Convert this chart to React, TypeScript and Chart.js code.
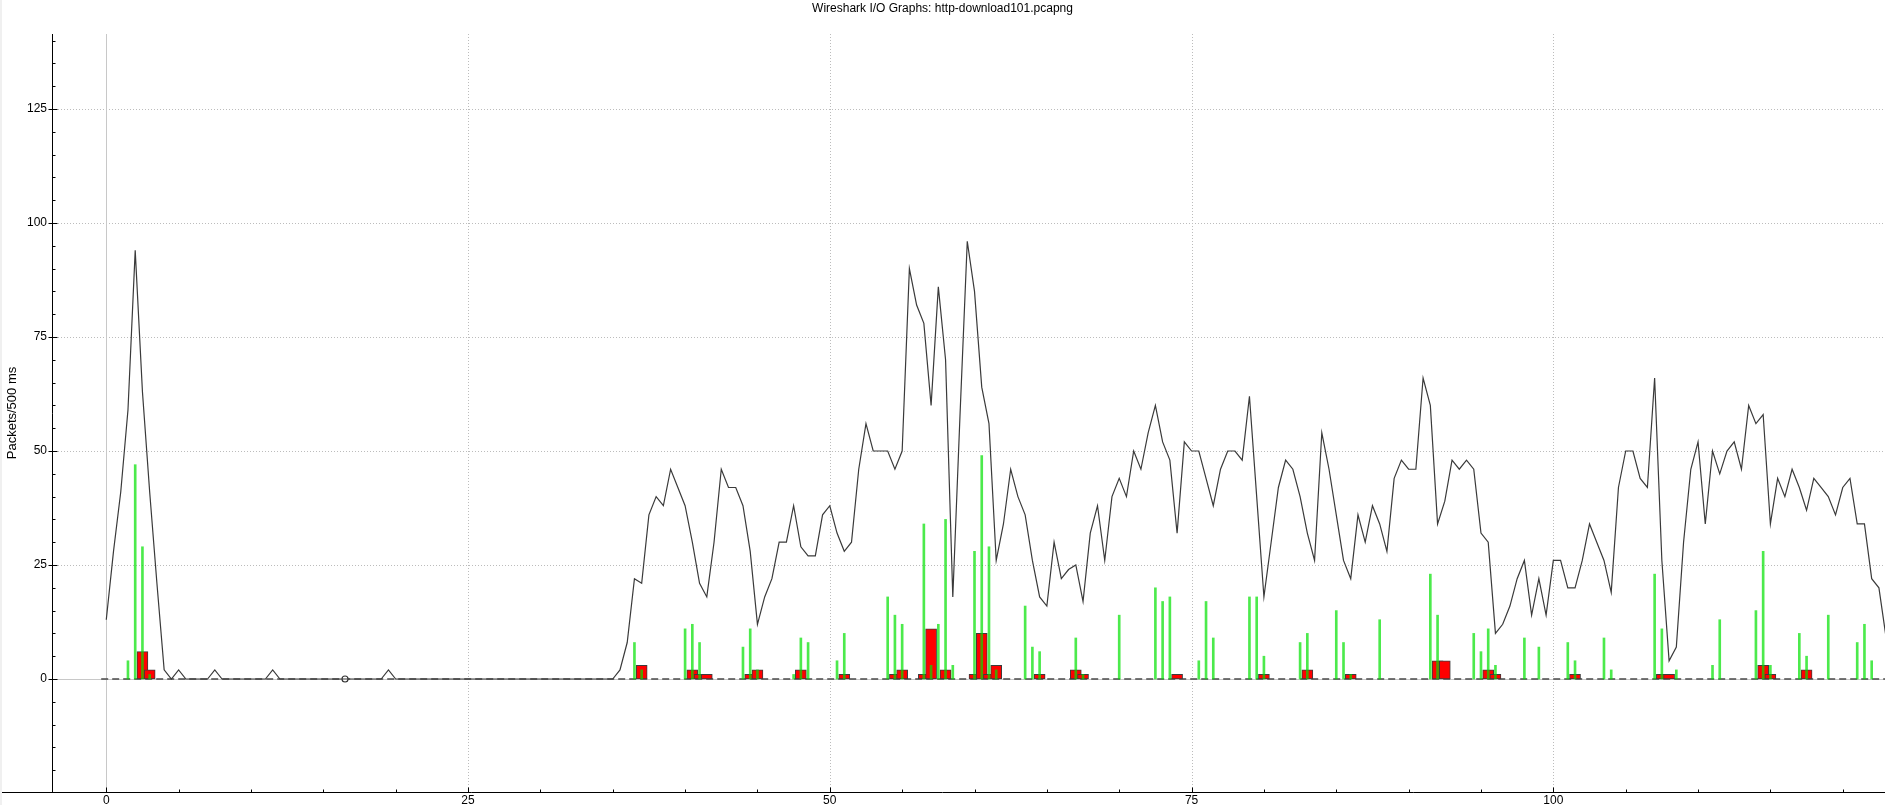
import { useEffect, useRef } from "react"
import Chart from "chart.js/auto"

// Wireshark I/O graph, one sample every 500 ms starting at t = 0
const INTERVAL = 0.5

// all packets per interval (black line)
const PACKETS = [
  13, 28, 41, 59, 94, 63, 41, 21, 2, 0,
  2, 0, 0, 0, 0, 2, 0, 0, 0, 0,
  0, 0, 0, 2, 0, 0, 0, 0, 0, 0,
  0, 0, 0, 0, 0, 0, 0, 0, 0, 2,
  0, 0, 0, 0, 0, 0, 0, 0, 0, 0,
  0, 0, 0, 0, 0, 0, 0, 0, 0, 0,
  0, 0, 0, 0, 0, 0, 0, 0, 0, 0,
  0, 2, 8, 22, 21, 36, 40, 38, 46, 42,
  38, 30, 21, 18, 30, 46, 42, 42, 38, 28,
  12, 18, 22, 30, 30, 38, 29, 27, 27, 36,
  38, 32, 28, 30, 46, 56, 50, 50, 50, 46,
  50, 90, 82, 78, 60, 86, 70, 18, 58, 96,
  85, 64, 56, 26, 34, 46, 40, 36, 26, 18,
  16, 30, 22, 24, 25, 17, 32, 38, 26, 40,
  44, 40, 50, 46, 54, 60, 52, 48, 32, 52,
  50, 50, 44, 38, 46, 50, 50, 48, 62, 40,
  18, 30, 42, 48, 46, 40, 32, 26, 54, 46,
  36, 26, 22, 36, 30, 38, 34, 28, 44, 48,
  46, 46, 66, 60, 34, 39, 48, 46, 48, 46,
  32, 30, 10, 12, 16, 22, 26, 14, 22, 14,
  26, 26, 20, 20, 26, 34, 30, 26, 19, 42,
  50, 50, 44, 42, 66, 26, 4, 7, 30, 46,
  52, 34, 50, 45, 50, 52, 46, 60, 56, 58,
  34, 44, 40, 46, 42, 37, 44, 42, 40, 36,
  42, 44, 34, 34, 22, 20, 9,
]

// green impulses
const IMPULSE_TIMES = [
  1.5, 2, 2.5, 3, 36.5, 37, 40, 40.5, 41, 44, 44.5, 45, 47.5, 48, 48.5, 50.5, 51,
  54, 54.5, 55, 56.5, 57, 57.5, 58, 58.5, 60, 60.5, 61, 61.5, 63.5, 64, 64.5,
  67, 67.5, 70, 72.5, 73, 73.5, 75.5, 76, 76.5, 79, 79.5, 80, 82.5, 83, 85, 85.5,
  86, 88, 91.5, 92, 94.5, 95, 95.5, 96, 98, 99, 101, 101.5, 103.5, 104, 107,
  107.5, 108.5, 111, 111.5, 114, 114.5, 115, 117, 117.5, 119, 121, 121.5, 122,
]
const IMPULSE_VALUES = [
  4, 47, 29, 1, 8, 2, 11, 12, 8, 7, 11, 2, 1, 9, 8, 4, 10,
  18, 14, 12, 34, 3, 12, 35, 3, 28, 49, 29, 2, 16, 7, 6,
  9, 1, 14, 20, 17, 18, 4, 17, 9, 18, 18, 5, 8, 10, 15, 8,
  1, 13, 23, 14, 10, 6, 11, 3, 9, 7, 8, 4, 9, 2, 23,
  11, 2, 3, 13, 15, 28, 3, 10, 5, 14, 8, 12, 4,
]

// red bars
const BAR_TIMES = [
  2.5, 3, 37, 40.5, 41, 41.5, 44.5, 45, 48, 51, 54.5, 55, 56.5, 57, 58, 60, 60.5,
  61, 61.5, 64.5, 67, 67.5, 74, 80, 83, 86, 92, 92.5, 95.5, 96, 101.5, 107.5, 108,
  114.5, 115, 117.5,
]
const BAR_VALUES = [
  6, 2, 3, 2, 1, 1, 1, 2, 2, 1, 1, 2, 1, 11, 2, 1, 10,
  1, 3, 1, 2, 1, 1, 1, 2, 1, 4, 4, 2, 1, 1, 1, 1,
  3, 1, 2,
]

// dashed zero graph and the selected sample marker
const ZERO_SPAN = [-0.35, 123]
const MARKER_TIME = 16.5

const X_TICKS = [0, 25, 50, 75, 100]
const Y_TICKS = [0, 25, 50, 75, 100, 125]
const MINOR_STEP = 5
const X_MIN = -3.75
const X_MAX = 122.92
const Y_MIN = -24.78
const Y_MAX = 141.45

const TITLE = "Wireshark I/O Graphs: http-download101.pcapng"
const Y_TITLE = "Packets/500 ms"

const FONT = "'Liberation Sans', Arial, sans-serif"

// grid lines under the data, axis lines and tick marks on top
const framePlugin = {
  id: "frame",
  beforeDatasetsDraw(chart: any) {
    const { ctx, chartArea: a, scales } = chart
    const xs = scales.x
    const ys = scales.y
    ctx.save()
    ctx.lineWidth = 1
    ctx.strokeStyle = "#bcbcbc"
    ctx.setLineDash([1, 2])
    for (const v of X_TICKS) {
      if (v === 0) continue
      const px = Math.round(xs.getPixelForValue(v)) + 0.5
      ctx.beginPath()
      ctx.moveTo(px, a.top)
      ctx.lineTo(px, a.bottom)
      ctx.stroke()
    }
    for (const v of Y_TICKS) {
      if (v === 0) continue
      const py = Math.round(ys.getPixelForValue(v)) + 0.5
      ctx.beginPath()
      ctx.moveTo(a.left, py)
      ctx.lineTo(a.right, py)
      ctx.stroke()
    }
    // zero lines are solid
    ctx.setLineDash([])
    ctx.strokeStyle = "#c8c8c8"
    const x0 = Math.round(xs.getPixelForValue(0)) + 0.5
    ctx.beginPath()
    ctx.moveTo(x0, a.top)
    ctx.lineTo(x0, a.bottom)
    ctx.stroke()
    const y0 = Math.round(ys.getPixelForValue(0)) + 0.5
    ctx.beginPath()
    ctx.moveTo(a.left, y0)
    ctx.lineTo(a.right, y0)
    ctx.stroke()
    ctx.restore()
  },
  afterDraw(chart: any) {
    const { ctx, chartArea: a, scales } = chart
    const xs = scales.x
    const ys = scales.y
    const left = Math.round(a.left) + 0.5
    const bottom = Math.round(a.bottom) + 0.5
    ctx.save()
    ctx.strokeStyle = "#000"
    ctx.lineWidth = 1
    ctx.beginPath()
    ctx.moveTo(left, a.top)
    ctx.lineTo(left, bottom)
    ctx.moveTo(0, bottom)
    ctx.lineTo(a.right, bottom)
    // y ticks: minor inward, major across
    for (let v = Math.ceil(Y_MIN / MINOR_STEP) * MINOR_STEP; v <= Y_MAX; v += MINOR_STEP) {
      const py = Math.round(ys.getPixelForValue(v)) + 0.5
      const major = Y_TICKS.includes(v)
      ctx.moveTo(major ? left - 4 : left, py)
      ctx.lineTo(left + (major ? 5 : 3), py)
    }
    // x ticks point up into the plot
    for (let v = Math.ceil(X_MIN / MINOR_STEP) * MINOR_STEP; v <= X_MAX; v += MINOR_STEP) {
      const px = Math.round(xs.getPixelForValue(v)) + 0.5
      const major = X_TICKS.includes(v)
      ctx.moveTo(px, bottom)
      ctx.lineTo(px, bottom - (major ? 5 : 3))
    }
    ctx.stroke()
    ctx.restore()
  },
}

export default function App() {
  const chartRef = useRef<HTMLCanvasElement>(null)
  const chartInstance = useRef<Chart | null>(null)

  useEffect(() => {
    if (!chartRef.current) return
    if (chartInstance.current) chartInstance.current.destroy()
    const ctx = chartRef.current.getContext("2d")
    if (!ctx) return

    const packetPoints = PACKETS.map((v, i) => ({ x: i * INTERVAL, y: v }))
    const impulsePoints = IMPULSE_TIMES.map((t, i) => ({ x: t, y: IMPULSE_VALUES[i] }))
    const barPoints = BAR_TIMES.map((t, i) => ({ x: t, y: BAR_VALUES[i] }))
    const zeroPoints = ZERO_SPAN.map((t) => ({ x: t, y: 0 }))

    chartInstance.current = new Chart(ctx, {
      type: "line",
      data: {
        datasets: [
          {
            type: "line",
            label: "All packets",
            data: packetPoints,
            borderColor: "#3a3a3a",
            borderWidth: 1.2,
            pointRadius: 0,
            tension: 0,
            order: 0,
          },
          {
            type: "line",
            label: "Marker",
            data: [{ x: MARKER_TIME, y: 0 }],
            showLine: false,
            pointRadius: 3,
            pointBorderWidth: 1.2,
            pointBorderColor: "#333",
            pointBackgroundColor: "#fff",
            order: 0,
          },
          {
            type: "bar",
            label: "Impulses",
            data: impulsePoints,
            backgroundColor: "rgba(0, 225, 0, 0.7)",
            borderWidth: 0,
            barThickness: 2,
            grouped: false,
            order: 1,
          },
          {
            type: "bar",
            label: "Bars",
            data: barPoints,
            backgroundColor: "#ff0000",
            borderColor: "#3c3c3c",
            borderWidth: 1,
            borderSkipped: false,
            barThickness: 11,
            grouped: false,
            order: 2,
          },
          {
            type: "line",
            label: "Zero",
            data: zeroPoints,
            borderColor: "#4a4a4a",
            borderWidth: 1.5,
            borderDash: [7, 4],
            pointRadius: 0,
            order: 3,
          },
        ] as any,
      },
      options: {
        responsive: true,
        maintainAspectRatio: false,
        animation: false,
        events: [],
        layout: { padding: { left: 0, right: 12, top: 0, bottom: 0 } },
        scales: {
          x: {
            type: "linear",
            position: "bottom",
            offset: false,
            min: X_MIN,
            max: X_MAX,
            afterBuildTicks: (scale: any) => {
              scale.ticks = X_TICKS.map((value) => ({ value }))
            },
            afterFit: (scale: any) => {
              scale.height = 13
            },
            grid: { display: false, drawTicks: false, tickLength: 0, offset: false },
            border: { display: false },
            ticks: {
              autoSkip: false,
              maxRotation: 0,
              padding: 1,
              color: "#000",
              font: { family: FONT, size: 12 },
            },
          },
          y: {
            type: "linear",
            min: Y_MIN,
            max: Y_MAX,
            afterBuildTicks: (scale: any) => {
              scale.ticks = Y_TICKS.map((value) => ({ value }))
            },
            afterFit: (scale: any) => {
              scale.width = 52
            },
            grid: { display: false, drawTicks: false, tickLength: 0 },
            border: { display: false },
            ticks: {
              padding: 5,
              color: "#000",
              font: { family: FONT, size: 12 },
            },
            title: {
              display: true,
              text: Y_TITLE,
              color: "#000",
              font: { family: FONT, size: 13 },
              padding: { top: 5, bottom: 0 },
            },
          },
        },
        plugins: {
          legend: { display: false },
          tooltip: { enabled: false },
          title: {
            display: true,
            text: TITLE,
            color: "#000",
            font: { family: FONT, size: 12, weight: "normal" },
            padding: { top: 1.5, bottom: 18.1 },
          },
        },
      },
      plugins: [framePlugin],
    })

    return () => {
      if (chartInstance.current) {
        chartInstance.current.destroy()
        chartInstance.current = null
      }
    }
  }, [])

  return (
    <div
      style={{
        position: "fixed",
        left: 0,
        top: 0,
        width: "100vw",
        height: "100vh",
        background: "#fff",
      }}
    >
      <canvas ref={chartRef} />
      <div
        style={{
          position: "absolute",
          left: 0,
          top: 0,
          width: 2,
          height: "100%",
          background: "#f0f0f0",
        }}
      />
    </div>
  )
}
